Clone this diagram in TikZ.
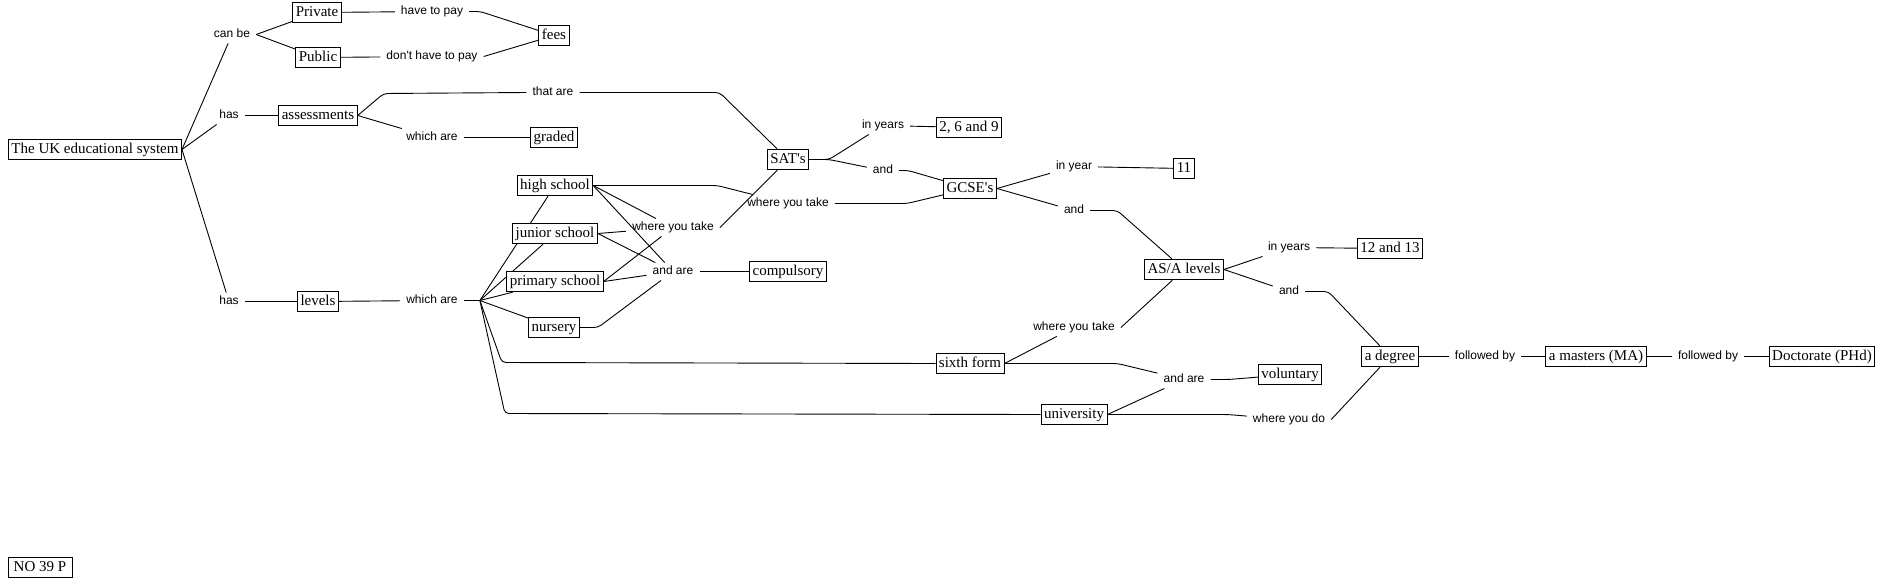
\documentclass[tikz,border=0pt]{standalone}
\usepackage{fontspec}
\setmainfont{Liberation Serif}[Ligatures=TeXOff]
\newfontfamily\linkfont{Liberation Sans}[Ligatures=TeXOff]
\usetikzlibrary{backgrounds}
\tikzset{
  concept/.style={
    rectangle, draw=black, line width=0.9pt, fill=white,
    font=\fontsize{15}{17}\selectfont,
    inner xsep=3pt, inner ysep=3pt, text height=11pt, text depth=3.5pt
  },
  phrase/.style={
    font=\linkfont\fontsize{12}{14}\selectfont,
    inner xsep=6pt, inner ysep=3pt, text height=9pt, text depth=2.5pt
  },
  conn/.style={line width=0.9pt, rounded corners=4pt},
}

\begin{document}
\begin{tikzpicture}[x=1pt, y=-1pt]
  \useasboundingbox (0,-1.5) rectangle (1882,577.5);

  % Root and first branches
  \node[concept] (uk)      at (95,148)  {The UK educational system};
  \node[phrase]  (canbe)   at (232,33)  {can be};
  \node[phrase]  (hasA)    at (229,114) {has};
  \node[phrase]  (hasB)    at (229,300) {has};

  % Private / public
  \node[concept] (priv)    at (317,11)  {Private};
  \node[concept] (pub)     at (318,56)  {Public};
  \node[phrase]  (havepay) at (432,10)  {have to pay};
  \node[phrase]  (dontpay) at (432,55)  {don't have to pay};
  \node[concept] (fees)    at (554,34)  {fees};

  % Assessments
  \node[concept] (assess)  at (318,114) {assessments};
  \node[phrase]  (thatare) at (553,91)  {that are};
  \node[phrase]  (whichA)  at (432,136) {which are};
  \node[concept] (graded)  at (554,136) {graded};

  % Levels
  \node[concept] (levels)  at (318,300) {levels};
  \node[phrase]  (whichB)  at (432,299) {which are};
  \node[concept] (high)    at (555,184) {high school};
  \node[concept] (junior)  at (555,232) {junior school};
  \node[concept] (primary) at (555,280) {primary school};
  \node[concept] (nursery) at (554,326) {nursery};
  \node[phrase]  (wytA)    at (673,226) {where you take};
  \node[phrase]  (andareA) at (673,270) {and are};
  \node[concept] (compul)  at (788,270) {compulsory};

  % Exams
  \node[concept] (sats)    at (788,158) {SAT's};
  \node[phrase]  (wytB)    at (788,202) {where you take};
  \node[phrase]  (inyrsA)  at (883,124) {in years};
  \node[concept] (yrsA)    at (969,126) {2, 6 and 9};
  \node[phrase]  (andA)    at (883,169) {and};
  \node[concept] (gcse)    at (970,187) {GCSE's};
  \node[phrase]  (inyear)  at (1074,165) {in year};
  \node[concept] (yrB)     at (1184,167) {11};
  \node[phrase]  (andB)    at (1074,209) {and};
  \node[concept] (asa)     at (1184,268) {AS/A levels};
  \node[phrase]  (inyrsC)  at (1289,246) {in years};
  \node[concept] (yrsC)    at (1390,247) {12 and 13};
  \node[phrase]  (andC)    at (1289,290) {and};

  % Sixth form and university
  \node[concept] (sixth)   at (970,362)  {sixth form};
  \node[phrase]  (wytC)    at (1074,326) {where you take};
  \node[phrase]  (andareB) at (1184,378) {and are};
  \node[concept] (volunt)  at (1290,373) {voluntary};
  \node[concept] (univ)    at (1074,413) {university};
  \node[phrase]  (wydo)    at (1289,418) {where you do};

  % Degrees
  \node[concept] (degree)  at (1390,355) {a degree};
  \node[phrase]  (fbA)     at (1485,355) {followed by};
  \node[concept] (masters) at (1596,355) {a masters (MA)};
  \node[phrase]  (fbB)     at (1708,355) {followed by};
  \node[concept] (doct)    at (1822,355) {Doctorate (PHd)};

  \node[concept, minimum width=64pt] (tag) at (40,566) {NO 39 P};

  \begin{scope}[on background layer]
    % Root
    \draw[conn] (uk.east) -- (canbe);
    \draw[conn] (uk.east) -- (hasA);
    \draw[conn] (uk.east) -- (hasB);

    % Private / public
    \draw[conn] (canbe.east) -- (priv);
    \draw[conn] (canbe.east) -- (pub);
    \draw[conn] (priv) -- (havepay);
    \draw[conn] (havepay.east) -- ++(11,0) -- (fees);
    \draw[conn] (pub) -- (dontpay);
    \draw[conn] (dontpay.east) -- (fees);

    % Assessments
    \draw[conn] (hasA) -- (assess);
    \draw[conn] (assess.east) -- ++(26,-22) -- (thatare.west);
    \draw[conn] (thatare.east) -- ++(140,0) -- (sats);
    \draw[conn] (assess.east) -- (whichA);
    \draw[conn] (whichA) -- (graded);

    % Levels
    \draw[conn] (hasB) -- (levels);
    \draw[conn] (levels) -- (whichB);
    \draw[conn] (whichB.east) -- ++(16,0) coordinate (fork);
    \draw[conn] (fork) -- (high);
    \draw[conn] (fork) -- (junior);
    \draw[conn] (fork) -- (primary);
    \draw[conn] (fork) -- (nursery);
    \draw[conn] (fork) -- ++(22,62) -- (sixth.west);
    \draw[conn] (fork) -- ++(25,113) -- (univ.west);

    % Schools
    \draw[conn] (high.east) -- ++(124,0) -- (wytB);
    \draw[conn] (high.east) -- (wytA);
    \draw[conn] (high.east) -- (andareA);
    \draw[conn] (junior.east) -- (wytA);
    \draw[conn] (junior.east) -- (andareA);
    \draw[conn] (primary.east) -- (wytA);
    \draw[conn] (primary.east) -- (andareA);
    \draw[conn] (nursery.east) -- ++(18,0) -- (andareA);
    \draw[conn] (andareA) -- (compul);
    \draw[conn] (wytA.east) -- (sats);
    \draw[conn] (wytB.east) -- ++(72,0) -- (gcse);

    % Exams
    \draw[conn] (sats.east) -- ++(20,0) -- (inyrsA);
    \draw[conn] (sats.east) -- ++(20,0) -- (andA);
    \draw[conn] (inyrsA) -- (yrsA);
    \draw[conn] (andA.east) -- ++(9,0) -- (gcse);
    \draw[conn] (gcse.east) -- (inyear);
    \draw[conn] (gcse.east) -- (andB);
    \draw[conn] (inyear) -- (yrB);
    \draw[conn] (andB.east) -- ++(27,0) -- (asa);
    \draw[conn] (asa.east) -- (inyrsC);
    \draw[conn] (asa.east) -- (andC);
    \draw[conn] (inyrsC) -- (yrsC);
    \draw[conn] (andC.east) -- ++(23,0) -- (degree);

    % Sixth form and university
    \draw[conn] (sixth.east) -- (wytC);
    \draw[conn] (wytC.east) -- (asa);
    \draw[conn] (sixth.east) -- ++(113,0) -- (andareB);
    \draw[conn] (andareB.east) -- ++(18,0) -- (volunt);
    \draw[conn] (univ.east) -- (andareB);
    \draw[conn] (univ.east) -- ++(120,0) -- (wydo);
    \draw[conn] (wydo.east) -- (degree);

    % Degrees
    \draw[conn] (degree) -- (fbA);
    \draw[conn] (fbA) -- (masters);
    \draw[conn] (masters) -- (fbB);
    \draw[conn] (fbB) -- (doct);
  \end{scope}

\end{tikzpicture}
\end{document}
